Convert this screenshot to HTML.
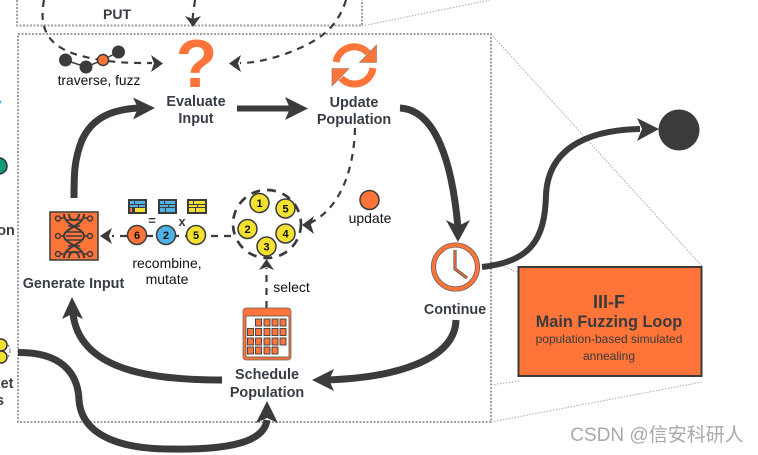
<!DOCTYPE html>
<html>
<head>
<meta charset="utf-8">
<style>
html,body{margin:0;padding:0;background:#fff;width:758px;height:455px;overflow:hidden}
svg{display:block}
text{font-family:"Liberation Sans",sans-serif;fill:#3a3a3a;text-anchor:middle}
.b{font-weight:bold;font-size:14.4px;fill:#373c45}
.r{font-size:14px;fill:#111}
.n{font-weight:bold;font-size:11px;fill:#111}
.th{fill:none;stroke:#3b3b3b;stroke-width:7}
.da{fill:none;stroke:#3b3b3b;stroke-width:2.2;stroke-dasharray:7 6}
.dot{fill:none;stroke:#a0a0a0;stroke-width:2;stroke-dasharray:2 1.5}
.thin{fill:none;stroke:#a8a8a8;stroke-width:1;stroke-dasharray:1.5 1.5}
.ah{fill:#3b3b3b}
</style>
</head>
<body>
<svg width="758" height="455" viewBox="0 0 758 455" xmlns="http://www.w3.org/2000/svg">
<!-- frames -->
<path class="dot" d="M17 0V25.500H362V0"/>
<path class="dot" d="M18 34H491V422H18Z"/>
<path class="thin" d="M362 26L490 0M491 34L702 266M491 261L517 272M491 385L519 381M491 422L702 382"/>

<!-- left remnants -->
<circle cx="-1" cy="166" r="8" fill="#0f9a7a" stroke="#333" stroke-width="1.5"/>
<circle cx="0" cy="102" r="1.5" fill="#4fb3e8"/>
<text x="6" y="235" class="b">on</text>
<circle cx="0" cy="351" r="10" fill="none" stroke="#555" stroke-width="1" stroke-dasharray="2 2"/>
<circle cx="1" cy="345" r="6" fill="#f2e130" stroke="#333" stroke-width="1.5"/>
<circle cx="1" cy="357" r="6" fill="#f2e130" stroke="#333" stroke-width="1.5"/>
<text x="3" y="388" class="b">ket</text>
<text x="0" y="405" class="b">s</text>

<!-- top dashed paths -->
<path class="da" d="M44 0C38 32 50 50 90 58C115 63 130 63 152 63"/>
<path class="ah" d="M163 63.500L151 55L154 63.500L151 72Z"/>
<path class="da" d="M195 0C194 8 193 14 192.500 20"/>
<path class="ah" d="M193 27L185 16L193 19L201 16Z"/>
<path class="da" d="M346 0C338 26 322 38 300 48C280 57 258 63 240 63"/>
<path class="ah" d="M229 63.500L241 55L238 63.500L241 72Z"/>

<!-- traverse nodes -->
<path d="M65 60L86 67L103 60L118 52" fill="none" stroke="#3b3b3b" stroke-width="1.500"/>
<circle cx="65.500" cy="60" r="6.500" fill="#3b3b3b"/>
<circle cx="86" cy="67" r="6.500" fill="#3b3b3b"/>
<circle cx="103" cy="60" r="5.500" fill="#ff7539" stroke="#3b3b3b" stroke-width="1.500"/>
<circle cx="118.500" cy="52" r="6.500" fill="#3b3b3b"/>
<text x="99" y="85" class="r" style="font-size:13.8px">traverse, fuzz</text>

<!-- question mark -->
<text x="196.500" y="87" style="font-size:68px;font-weight:bold;fill:#ff7539">?</text>
<text x="196" y="106" class="b">Evaluate</text>
<text x="196" y="123" class="b">Input</text>

<!-- refresh -->
<g fill="none" stroke="#ff7539" stroke-width="7">
<path d="M336 62A18.500 18.500 0 0 1 368 53"/>
<path d="M373 68A18.500 18.500 0 0 1 341 78"/>
</g>
<path d="M376.500 45V62.500H359.500Z" fill="#ff7539" stroke="#777" stroke-width=".6"/>
<path d="M332 86V68.500H349Z" fill="#ff7539" stroke="#777" stroke-width=".6"/>
<text x="354" y="107" class="b">Update</text>
<text x="354" y="124" class="b">Population</text>

<!-- thick arrows -->
<path class="th" d="M237 108.500H290" style="stroke-width:6"/>
<path class="ah" d="M308 108.500L285 97L290 108.500L285 120Z"/>
<path class="th" d="M74 198C74 175 74 160 82 140C92 118 112 109 140 108"/>
<path class="ah" d="M155 108L133 97.500L138 108L133 119.500Z"/>
<path class="th" d="M400 108C435 110 452 160 458 228"/>
<path class="ah" d="M458 242L446 220L458 226L470 220Z"/>
<path class="th" d="M482 267C530 262 545 240 546 195C548 150 585 130 640 129" style="stroke-width:6"/>
<path class="ah" d="M659 129L637 118L642 129L637 141Z"/>
<circle cx="679" cy="130" r="20.500" fill="#3b3b3b"/>
<path class="th" d="M456 320C455 360 395 378 325 380"/>
<path class="ah" d="M312 380L334 369L329 380L334 391Z"/>
<path class="th" d="M222 380C150 380 80 370 73 314"/>
<path class="ah" d="M72 297L62 319L72 314L83 319Z"/>
<path class="th" d="M18 352.500C60 352 78 372 79 400C82 440 130 449 170 449C230 450 264 442 267 420"/>
<path class="ah" d="M267 401L256 423L267 418L278 423Z"/>

<!-- update dashed -->
<path class="da" d="M355 128C354 170 340 210 308 224"/>
<path class="ah" d="M302 225L314 216L311 225L314 234Z"/>
<circle cx="369.500" cy="200" r="9.500" fill="#ff7539" stroke="#3b3b3b" stroke-width="1.500"/>
<text x="370" y="223" class="r">update</text>

<!-- population -->
<circle cx="267" cy="224" r="34" fill="none" stroke="#3b3b3b" stroke-width="2.700" stroke-dasharray="9 7"/>
<g fill="#f2e130" stroke="#3b3b3b" stroke-width="1.500">
<circle cx="259.500" cy="203" r="9.500"/>
<circle cx="285.500" cy="208.500" r="9.500"/>
<circle cx="247.500" cy="229" r="9.500"/>
<circle cx="285.500" cy="233.500" r="9.500"/>
<circle cx="266.500" cy="246.500" r="9.500"/>
</g>
<text x="259.500" y="207" class="n">1</text>
<text x="285.500" y="212.500" class="n">5</text>
<text x="247.500" y="233" class="n">2</text>
<text x="285.500" y="237.500" class="n">4</text>
<text x="266.500" y="250.500" class="n">3</text>

<!-- select -->
<path class="da" d="M266.500 308V268"/>
<path class="ah" d="M266.500 259L259 270L266.500 267L274 270Z"/>
<text x="291.500" y="292" class="r">select</text>

<!-- recombine -->
<path class="da" d="M231 236H112"/>
<path class="ah" d="M100 236L112 228L109 236L112 244Z"/>
<circle cx="137" cy="235" r="9.500" fill="#ff7539" stroke="#3b3b3b" stroke-width="1.500"/>
<circle cx="166" cy="235" r="9.500" fill="#4fb3e8" stroke="#3b3b3b" stroke-width="1.500"/>
<circle cx="196" cy="235" r="9.500" fill="#f2e130" stroke="#3b3b3b" stroke-width="1.500"/>
<text x="137" y="239" class="n">6</text>
<text x="166" y="239" class="n">2</text>
<text x="196" y="239" class="n">5</text>
<text x="152" y="225" style="font-size:13px;font-weight:bold">=</text>
<text x="182" y="226" style="font-size:13px;font-weight:bold">x</text>
<text x="167" y="268" class="r">recombine,</text>
<text x="167" y="284" class="r">mutate</text>

<!-- tables -->
<g>
<rect x="128" y="199" width="19" height="15" fill="#3b3b3b"/>
<path d="M130 201h4v3h-4zM135 201h10v3h-10zM130 205h8v2h-8zM139 205h6v2h-6z" fill="#4fb3e8"/>
<path d="M135 208h10v4h-10z" fill="#f2e130"/>
<path d="M130 208h2v4h-2z" fill="#ff7539"/>
<rect x="158" y="199" width="19" height="15" fill="#3b3b3b"/>
<path d="M160 201h4v3h-4zM165 201h10v3h-10zM160 205h8v2h-8zM169 205h6v2h-6zM160 208h5v4h-5zM166 208h9v4h-9z" fill="#4fb3e8"/>
<rect x="187" y="199" width="20" height="15" fill="#3b3b3b"/>
<path d="M189 201h4v3h-4zM194 201h11v3h-11zM189 205h8v2h-8zM198 205h7v2h-7zM189 208h6v4h-6zM196 208h9v4h-9z" fill="#f2e130"/>
</g>

<!-- DNA box -->
<rect x="50" y="212" width="48" height="48" fill="#ff7539" stroke="#3b3b3b" stroke-width="1.500"/>
<g fill="none" stroke="#3b3b3b" stroke-width="2">
<path d="M64 214C64 226 84 228 84 236C84 244 64 246 64 258"/>
<path d="M84 214C84 226 64 228 64 236C64 244 84 246 84 258"/>
<path d="M69 214C69 222 79 222 79 214M69 258C69 250 79 250 79 258"/>
<path stroke-width="1.500" d="M66 220h16M68 226h12M66 232h16M66 236h16M66 240h16M68 246h12M66 252h16"/>
<path stroke-width="1.500" d="M61 218h4M61 236h3M61 254h4M83 218h4M84 236h3M83 254h4"/>
<circle stroke-width="1.500" cx="58" cy="218.500" r="2.500"/><circle stroke-width="1.500" cx="58" cy="236" r="2.500"/><circle stroke-width="1.500" cx="58" cy="254" r="2.500"/>
<circle stroke-width="1.500" cx="90" cy="218.500" r="2.500"/><circle stroke-width="1.500" cx="90" cy="236" r="2.500"/><circle stroke-width="1.500" cx="90" cy="254" r="2.500"/>
</g>
<text x="73.500" y="288" class="b">Generate Input</text>

<!-- clock -->
<circle cx="455.500" cy="267" r="22" fill="#fff" stroke="#ff7539" stroke-width="4"/>
<circle cx="455.500" cy="267" r="24.200" fill="none" stroke="#555" stroke-width=".7"/>
<circle cx="455.500" cy="267" r="19.800" fill="none" stroke="#555" stroke-width=".7"/>
<path d="M455 250V269L467 278" fill="none" stroke="#3b3b3b" stroke-width="3"/>
<path d="M455 250V269L467 278" fill="none" stroke="#ff7539" stroke-width="1.500"/>
<text x="455" y="314" class="b">Continue</text>

<!-- calendar -->
<rect x="243" y="308" width="48" height="52" rx="3" fill="#ff7539" stroke="#666" stroke-width=".8"/>
<rect x="246" y="316" width="43" height="41" fill="#fff" stroke="#555" stroke-width=".8"/>
<g fill="#ff7539" stroke="#3b3b3b" stroke-width=".9">
<rect x="255.500" y="319" width="6" height="7"/><rect x="264" y="319" width="6" height="7"/><rect x="272" y="319" width="6" height="7"/><rect x="280" y="319" width="6" height="7"/>
<rect x="247.500" y="328.500" width="6" height="7"/><rect x="255.500" y="328.500" width="6" height="7"/><rect x="264" y="328.500" width="6" height="7"/><rect x="272" y="328.500" width="6" height="7"/><rect x="280" y="328.500" width="6" height="7"/>
<rect x="247.500" y="338" width="6" height="7"/><rect x="255.500" y="338" width="6" height="7"/><rect x="264" y="338" width="6" height="7"/><rect x="272" y="338" width="6" height="7"/><rect x="280" y="338" width="6" height="7"/>
<rect x="247.500" y="347" width="6" height="7"/><rect x="255.500" y="347" width="6" height="7"/><rect x="264" y="347" width="6" height="7"/><rect x="272" y="347" width="6" height="7"/>
</g>
<text x="267" y="379" class="b">Schedule</text>
<text x="267" y="397" class="b">Population</text>

<!-- III-F box -->
<rect x="518.500" y="267" width="183" height="109" fill="#ff7539" stroke="#3b3b3b" stroke-width="2"/>
<text x="609" y="308" style="font-size:18px;font-weight:bold">III-F</text>
<text x="609" y="327" style="font-size:16.300px;font-weight:bold">Main Fuzzing Loop</text>
<text x="609" y="343" style="font-size:12px">population-based simulated</text>
<text x="609" y="360" style="font-size:12px">annealing</text>

<!-- PUT -->
<text x="117" y="19" style="font-size:14px;font-weight:bold;fill:#373c45">PUT</text>

<!-- watermark -->
<text x="657" y="441" style="font-family:'Liberation Sans','Noto Sans CJK SC',sans-serif;font-size:19px;fill:#a9a9a9">CSDN @信安科研人</text>
</svg>
</body>
</html>
